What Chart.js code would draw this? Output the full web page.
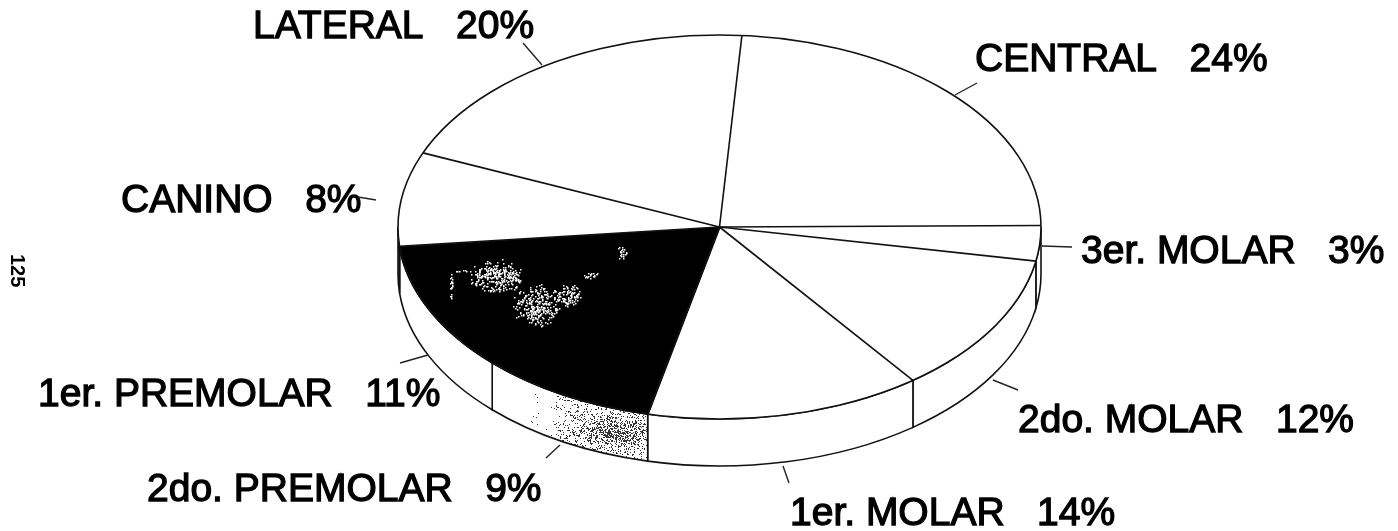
<!DOCTYPE html>
<html>
<head>
<meta charset="utf-8">
<style>
html, body { margin: 0; padding: 0; background: #fff; }
canvas { display: block; }
</style>
<script src="https://cdn.jsdelivr.net/npm/chart.js@4"></script>
</head>
<body>
<canvas id="myChart" width="1398" height="531"></canvas>
<script>
// values (they add up to 101 in the original too)
const categories = ['CENTRAL', '3er. MOLAR', '2do. MOLAR', '1er. MOLAR', '2do. PREMOLAR', '1er. PREMOLAR', 'CANINO', 'LATERAL'];
const percents = [24, 3, 12, 14, 9, 11, 8, 20];
const sliceColors = ['#fff', '#fff', '#fff', '#fff', '#000', '#000', '#fff', '#fff'];

// label text start + baseline, then the little leader line
const labelSpots = [
    [975, 71, 977, 83, 955, 95],
    [1081, 263, 1072, 247, 1042, 246],
    [1018, 432, 1018, 390, 993, 380],
    [790, 525, 789, 483, 783, 466],
    [147, 501, 546, 458, 560, 445],
    [38, 406, 400, 363, 428, 355],
    [121, 212, 358, 197, 376, 200],
    [253, 38, 523, 43, 542, 65]
];

// white flecks on the black slice: centre x, y, spread x, y
const flecks = [[497, 276, 30, 18], [536, 305, 26, 22], [567, 295, 15, 13], [470, 271, 20, 2], [622, 253, 6, 10], [590, 275, 10, 4], [451, 288, 2, 16]];

const pieX = 719.5, pieY = 227, pieRx = 321.5, pieRy = 192, wallDepth = 47;

function noise(x, y) {
    const n = Math.sin(x * 12.9898 + y * 78.233) * 43758.5453;
    return n - Math.floor(n);
}

// squashes the round pie into the tilted ellipse and adds the side wall
const tiltPlugin = {
    id: 'tilt',
    beforeDatasetsDraw(chart) {
        const ctx = chart.ctx;
        const arcs = chart.getDatasetMeta(0).data;
        arcs.forEach((arc, i) => {
            const a0 = Math.max(arc.startAngle, 0);
            const a1 = Math.min(arc.endAngle, Math.PI);
            if (a1 <= a0) return;
            ctx.save();
            ctx.beginPath();
            ctx.ellipse(pieX, pieY, pieRx, pieRy, 0, a0, a1);
            ctx.ellipse(pieX, pieY + wallDepth, pieRx, pieRy, 0, a1, a0, true);
            ctx.closePath();
            ctx.fillStyle = '#fff';
            ctx.fill();
            if (categories[i] === '2do. PREMOLAR') {
                ctx.save();
                ctx.clip();
                ctx.fillStyle = '#333';
                for (let x = 530; x < 650; x++) {
                    for (let y = 390; y < 472; y++) {
                        const dx = (x - 615) / 36, dy = (y - 432) / 13;
                        if (noise(x, y) < 0.42 * Math.exp(-dx * dx - dy * dy) + (x > 555 ? 0.1 : 0.008)) ctx.fillRect(x, y, 1, 1);
                    }
                }
                ctx.restore();
            }
            ctx.strokeStyle = '#111';
            ctx.lineWidth = 1.6;
            ctx.stroke();
            ctx.restore();
        });

        const first = arcs[0];
        const r = first.outerRadius;
        ctx.save();
        ctx.translate(pieX, pieY);
        ctx.scale(pieRx / r, pieRy / r);
        ctx.translate(-first.x, -first.y);
    },
    afterDatasetsDraw(chart) {
        const ctx = chart.ctx;
        ctx.restore();
        const arcs = chart.getDatasetMeta(0).data;

        // flecks on the black slice, kept inside its outline
        const black = arcs.filter((a, i) => sliceColors[i] === '#000');
        ctx.save();
        ctx.beginPath();
        ctx.moveTo(pieX, pieY);
        ctx.ellipse(pieX, pieY, pieRx, pieRy, 0, black[0].startAngle, black[1].endAngle);
        ctx.closePath();
        ctx.clip();
        ctx.fillStyle = '#fff';
        flecks.forEach(f => {
            for (let x = f[0] - f[2]; x <= f[0] + f[2]; x++) {
                for (let y = f[1] - f[3]; y <= f[1] + f[3]; y++) {
                    const dx = (x - f[0]) / f[2], dy = (y - f[1]) / f[3];
                    const d = dx * dx + dy * dy;
                    if (d < 1 && noise(x * 1.7, y * 2.3) < 0.3 * (1 - d)) ctx.fillRect(x, y, 1.5, 1.5);
                }
            }
        });
        ctx.restore();

        // outlines drawn after the squash so the pen stays even
        ctx.strokeStyle = '#111';
        ctx.lineWidth = 1.6;
        ctx.beginPath();
        ctx.ellipse(pieX, pieY, pieRx, pieRy, 0, 0, Math.PI * 2);
        ctx.stroke();
        arcs.forEach((arc, i) => {
            const prev = (i + arcs.length - 1) % arcs.length;
            if (sliceColors[i] === '#000' && sliceColors[prev] === '#000') return;
            ctx.beginPath();
            ctx.moveTo(pieX, pieY);
            ctx.lineTo(pieX + pieRx * Math.cos(arc.startAngle), pieY + pieRy * Math.sin(arc.startAngle));
            ctx.stroke();
        });

        // labels and leaders
        ctx.fillStyle = '#000';
        ctx.textBaseline = 'alphabetic';
        ctx.textAlign = 'left';
        ctx.font = '39px "Liberation Sans"';
        categories.forEach((name, i) => {
            const s = labelSpots[i];
            const text = name + '   ' + percents[i] + '%';
            ctx.fillText(text, s[0], s[1]);
            ctx.lineWidth = 1.3;
            ctx.strokeStyle = '#000';
            ctx.strokeText(text, s[0], s[1]);
            ctx.lineWidth = 1.4;
            ctx.strokeStyle = '#222';
            ctx.beginPath();
            ctx.moveTo(s[2], s[3]);
            ctx.lineTo(s[4], s[5]);
            ctx.stroke();
        });

        // page number of the scanned sheet
        ctx.save();
        ctx.translate(11, 254);
        ctx.rotate(Math.PI / 2);
        ctx.font = 'bold 20px "Liberation Sans"';
        ctx.fillText('125', 0, 0);
        ctx.restore();
    }
};

new Chart(document.getElementById('myChart').getContext('2d'), {
    type: 'pie',
    data: {
        labels: categories,
        datasets: [{
            data: percents,
            backgroundColor: sliceColors,
            borderColor: sliceColors,
            borderWidth: [0, 0, 0, 0, 2, 2, 0, 0]
        }]
    },
    options: {
        responsive: false,
        animation: false,
        rotation: 4,
        plugins: {
            legend: { display: false },
            tooltip: { enabled: false }
        }
    },
    plugins: [tiltPlugin]
});
</script>
</body>
</html>
